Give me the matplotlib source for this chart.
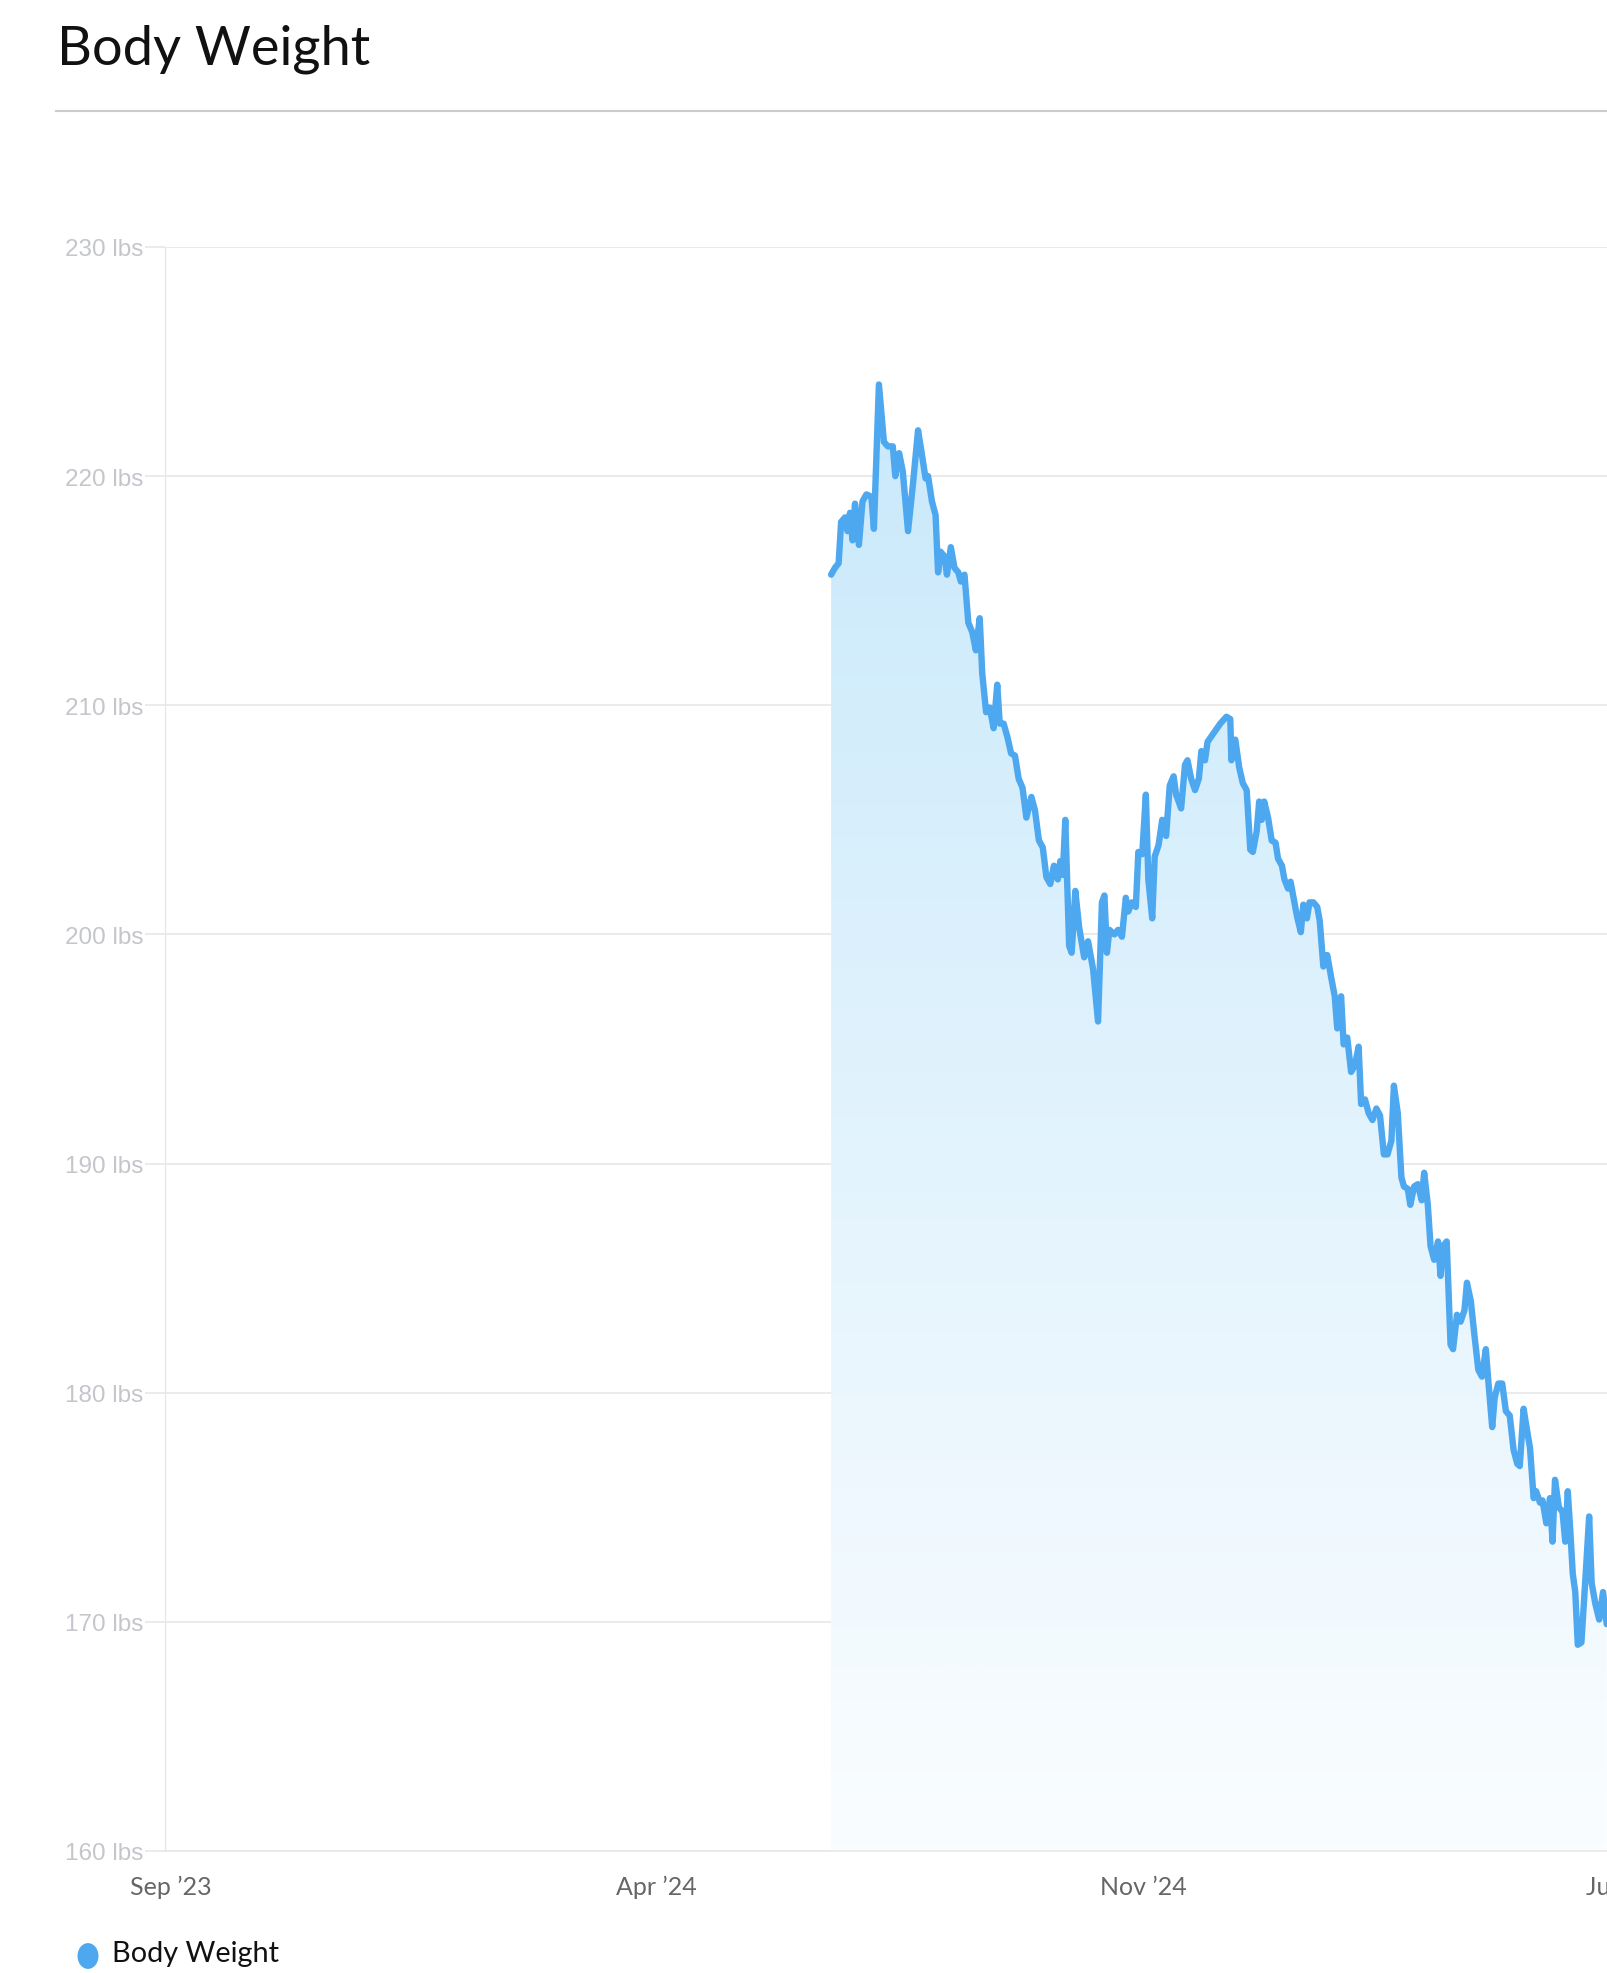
import numpy as np
import matplotlib
matplotlib.use("Agg")
import matplotlib.pyplot as plt
import matplotlib.dates as mdates
from matplotlib.colors import LinearSegmentedColormap
from matplotlib.patches import Polygon, Circle
from matplotlib.lines import Line2D

# ---------------- data ----------------
title = "Body Weight"
series_name = "Body Weight"
start_date = "2024-06-17"
day_offsets = [
    0, 1.7, 3.3, 4.4, 6.1, 7.2, 8.3, 9.4, 10.5, 12.2, 13.8, 15.5, 17.7, 18.8,
    21.0, 23.2, 24.9, 27.1, 28.2, 29.9, 31.5, 33.8, 36.0, 38.2, 39.8, 41.5,
    42.6, 44.3, 45.9, 47.0, 48.1, 49.8, 50.9, 52.6, 54.2, 55.9, 57.0, 58.6,
    60.3, 62.0, 63.6, 65.3, 66.4, 68.1, 69.7, 71.4, 73.0, 74.1, 75.8, 77.5,
    79.1, 80.8, 82.4, 84.1, 85.8, 88.0, 89.6, 91.3, 93.0, 94.6, 96.3, 97.9,
    99.6, 100.7, 101.8, 102.9, 104.6, 105.7, 107.3, 109.0, 111.2, 112.9,
    115.1, 117.3, 119.0, 120.1, 121.2, 122.3, 124.5, 126.1, 127.8, 129.5,
    130.6, 132.2, 133.9, 135.0, 136.7, 138.3, 139.4, 141.1, 142.2, 143.9,
    145.5, 147.2, 148.8, 150.5, 151.6, 153.8, 155.5, 156.6, 158.2, 159.9,
    161.6, 162.7, 164.3, 165.4, 168.2, 171.0, 173.7, 175.4, 175.9, 177.6,
    179.3, 180.9, 182.6, 184.2, 185.3, 187.0, 188.1, 189.2, 190.3, 192.0,
    193.6, 195.3, 196.4, 198.1, 199.2, 200.8, 201.9, 203.6, 204.7, 206.4,
    207.5, 209.1, 210.2, 211.9, 213.6, 214.7, 216.3, 218.0, 219.6, 221.3,
    222.4, 224.1, 225.2, 226.8, 228.5, 230.2, 231.8, 232.9, 234.6, 236.2,
    237.9, 239.6, 241.2, 242.9, 244.5, 246.2, 247.3, 249.0, 250.6, 251.7,
    253.4, 254.5, 256.2, 257.8, 259.5, 260.6, 262.2, 263.4, 265.0, 266.7,
    267.8, 268.9, 270.5, 272.2, 273.3, 275.0, 276.6, 278.3, 279.4, 281.1,
    282.7, 284.4, 286.0, 287.7, 288.8, 290.5, 291.6, 293.2, 294.9, 296.5,
    298.2, 299.9, 301.5, 302.6, 304.3, 305.4, 307.1, 308.7, 309.8, 311.5,
    312.6, 314.3, 315.9, 317.0, 318.1, 319.8, 321.4, 322.6, 323.7, 324.8,
    325.9, 327.0, 328.1, 329.7, 331.4, 333.1, 334.2, 335.8, 337.5, 339.2,
    340.8,
]
weights_lbs = [
    215.7, 216.0, 216.2, 218.0, 218.2, 217.6, 218.4, 217.2, 218.8, 217.0,
    218.9, 219.2, 219.1, 217.7, 224.0, 221.5, 221.3, 221.3, 220.0, 221.0,
    220.2, 217.6, 219.7, 222.0, 221.0, 219.9, 220.0, 218.9, 218.3, 215.8,
    216.7, 216.5, 215.7, 216.9, 216.0, 215.8, 215.4, 215.7, 213.6, 213.2,
    212.4, 213.8, 211.4, 209.7, 209.9, 209.0, 210.9, 209.2, 209.2, 208.6,
    207.9, 207.8, 206.8, 206.4, 205.1, 206.0, 205.4, 204.1, 203.8, 202.5,
    202.2, 203.0, 202.4, 203.2, 202.6, 205.0, 199.5, 199.2, 201.9, 200.3,
    199.0, 199.7, 198.5, 196.2, 201.4, 201.7, 199.2, 200.2, 200.0, 200.2,
    199.9, 201.6, 201.0, 201.4, 201.2, 203.6, 203.5, 206.1, 202.4, 200.7,
    203.4, 203.9, 205.0, 204.3, 206.5, 206.9, 206.1, 205.5, 207.4, 207.6,
    206.8, 206.3, 206.8, 208.0, 207.6, 208.4, 208.8, 209.2, 209.5, 209.4,
    207.6, 208.5, 207.3, 206.6, 206.3, 203.7, 203.6, 204.5, 205.8, 205.0,
    205.8, 205.1, 204.1, 204.0, 203.3, 203.0, 202.4, 202.0, 202.3, 201.4,
    200.8, 200.1, 201.3, 200.7, 201.4, 201.4, 201.2, 200.6, 198.6, 199.1,
    198.2, 197.3, 195.9, 197.3, 195.2, 195.5, 194.0, 194.3, 195.1, 192.6,
    192.8, 192.2, 191.9, 192.4, 192.1, 190.4, 190.4, 191.0, 193.4, 192.2,
    189.4, 189.0, 188.9, 188.2, 189.0, 189.1, 188.4, 189.6, 188.2, 186.4,
    185.8, 186.6, 185.1, 186.4, 186.6, 182.1, 181.9, 183.4, 183.1, 183.6,
    184.8, 184.0, 182.5, 181.0, 180.7, 181.9, 180.5, 178.5, 179.8, 180.4,
    180.4, 179.2, 179.0, 177.5, 176.9, 176.8, 179.3, 178.6, 177.6, 175.4,
    175.7, 175.2, 175.3, 174.3, 175.4, 173.5, 176.2, 175.0, 174.8, 173.5,
    175.7, 174.0, 172.1, 171.3, 169.0, 169.1, 171.8, 174.6, 171.7, 170.8,
    170.1, 171.3, 169.9,
]
x_tick_dates = ["2023-09-01", "2024-04-01", "2024-11-01", "2025-06-01"]
x_tick_labels = ["Sep \u201923", "Apr \u201924", "Nov \u201924", "Jun \u201925"]
y_ticks = [160, 170, 180, 190, 200, 210, 220, 230]
y_tick_labels = [f"{v} lbs" for v in y_ticks]
x_min_date, x_max_date = "2023-08-29 07:00", "2025-06-20"

# ---------------- figure ----------------
W, H = 1608, 1974
fig = plt.figure(figsize=(W / 100, H / 100), dpi=100)
fig.patch.set_facecolor("white")

t0 = np.datetime64(start_date)
dates = t0 + (np.array(day_offsets) * 86400).astype("timedelta64[s]")
xs = mdates.date2num(dates)
ys = np.array(weights_lbs)

xmin = mdates.date2num(np.datetime64(x_min_date))
xmax = mdates.date2num(np.datetime64(x_max_date))
px_per_day = 2.2757
ax_left = 165
ax_w = (xmax - xmin) * px_per_day
ax = fig.add_axes([ax_left / W, 1 - 1852 / H, ax_w / W, (1852 - 248) / H])
ax.set_facecolor("none")

# gradient fill under the line
cmap = LinearSegmentedColormap.from_list("g", ["#fafdff", "#c9e9fb"])
grad = np.linspace(0, 1, 256).reshape(-1, 1)
im = ax.imshow(grad, cmap=cmap, aspect="auto", origin="lower",
               extent=[xs[0], xs[-1], 160, ys.max()], zorder=1,
               interpolation="bilinear")
verts = np.vstack([np.column_stack([xs, ys]),
                   [[xs[-1], 160], [xs[0], 160]]])
clip = Polygon(verts, closed=True, facecolor="none", edgecolor="none")
ax.add_patch(clip)
im.set_clip_path(clip)

ax.plot(xs, ys, color="#4da8f0", lw=4.6, solid_joinstyle="round",
        solid_capstyle="round", zorder=3, clip_on=True)

ax.set_xlim(xmin, xmax)
ax.set_ylim(160, 230)

ax.set_yticks(y_ticks)
ax.set_yticklabels(y_tick_labels, family=["Liberation Sans", "DejaVu Sans"],
                   fontsize=17.5, color="#c4c6cc")
ax.tick_params(axis="y", length=14.5, width=1.1, color="#e6e6e6", pad=1)
ax.set_xticks(mdates.date2num(np.array(x_tick_dates, dtype="datetime64[D]")))
ax.set_xticklabels(x_tick_labels, family=["Lato", "DejaVu Sans"],
                   fontsize=18, color="#666666")
ax.tick_params(axis="x", length=0, pad=17)

ax.yaxis.grid(True, color="#e6e6e6", lw=1.1, zorder=0)
ax.xaxis.grid(False)
ax.set_axisbelow(True)
for s in ("top", "right"):
    ax.spines[s].set_visible(False)
ax.spines["left"].set_color("#e6e6e6")
ax.spines["left"].set_linewidth(0.9)
ax.spines["bottom"].set_color("#e6e6e6")
ax.spines["bottom"].set_linewidth(1.1)

# title and rule
fig.text(57 / W, 1 - 65 / H, title, family=["Lato", "DejaVu Sans"],
         fontsize=39, color="#111111", va="baseline", ha="left")
fig.add_artist(Line2D([56 / W, 1.0], [1 - 112 / H, 1 - 112 / H],
                      color="#cccccc", lw=1.5, transform=fig.transFigure))

# legend
fig.add_artist(Circle((88 / W, 1 - 1957 / H), 10.5 / W, transform=fig.transFigure,
                      facecolor="#4da8f0", edgecolor="none"))
fig.text(112 / W, 1 - 1962 / H, series_name, family=["Lato", "DejaVu Sans"],
         fontsize=20.8, color="#111111", va="baseline", ha="left")

fig.savefig("out.png", dpi=100, facecolor="white")
